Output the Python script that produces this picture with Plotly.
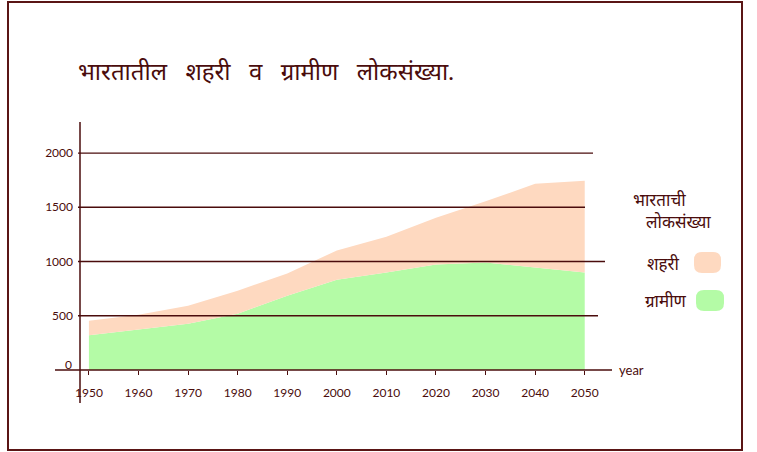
import plotly.graph_objects as go

# India's population (millions): rural bottom layer, urban stacked on top
years = [1950, 1960, 1970, 1980, 1990, 2000, 2010, 2020, 2030, 2040, 2050]
rural = [320, 373, 427, 518, 685, 833, 898, 972, 990, 945, 898]
urban = [135, 136, 166, 213, 204, 269, 330, 432, 565, 771, 847]

y_ticks = [500, 1000, 1500, 2000]
x_tick_labels = [str(y) for y in years]

GAP = "\u00a0\u00a0\u00a0"
title_text = GAP.join(["भारतातील", "शहरी", "व", "ग्रामीण", "लोकसंख्या."])
legend_title = "भारताची<br>\u00a0\u00a0\u00a0लोकसंख्या"
urban_name = "शहरी"
rural_name = "ग्रामीण"
x_label = "year"
origin_label = "0"

INK = "#4a0c0c"
PEACH = "rgb(254,217,192)"
GREEN = "rgb(180,251,166)"
FONT = "Lato, 'Noto Sans', sans-serif"

# plot area in pixels (757 x 452 canvas)
L, R, T, B = 80, 612, 122, 370
W, H = R - L, B - T


def px(x):
    return (x - L) / W


def py(y):
    return (B - y) / H


fig = go.Figure()
fig.add_trace(go.Scatter(
    x=years, y=rural, name=rural_name, stackgroup="pop",
    mode="lines", line=dict(width=0), fillcolor=GREEN, showlegend=False,
))
fig.add_trace(go.Scatter(
    x=years, y=urban, name=urban_name, stackgroup="pop",
    mode="lines", line=dict(width=0), fillcolor=PEACH, showlegend=False,
))

shapes = []
# horizontal guide lines
grid_ends = {500: 598, 1000: 605, 1500: 585, 2000: 593}
for val, end in grid_ends.items():
    shapes.append(dict(type="line", xref="paper", yref="y",
                       x0=px(78), x1=px(end), y0=val, y1=val,
                       line=dict(color=INK, width=1.3), layer="above"))
# axes
shapes.append(dict(type="line", xref="paper", yref="paper",
                   x0=px(80), x1=px(80), y0=1.0, y1=py(403),
                   line=dict(color=INK, width=1.5), layer="above"))
shapes.append(dict(type="line", xref="paper", yref="paper",
                   x0=px(55), x1=px(612), y0=0, y1=0,
                   line=dict(color=INK, width=1.5), layer="above"))
# outer frame
shapes.append(dict(type="rect", xref="paper", yref="paper",
                   x0=px(8), x1=px(742), y0=py(450), y1=py(2),
                   line=dict(color="#5a1515", width=2)))


def rounded(x0, y0, x1, y1, r):
    # rounded rectangle path in paper coordinates from pixel corners
    return (f"M {px(x0 + r)} {py(y0)} L {px(x1 - r)} {py(y0)} "
            f"Q {px(x1)} {py(y0)} {px(x1)} {py(y0 + r)} "
            f"L {px(x1)} {py(y1 - r)} Q {px(x1)} {py(y1)} {px(x1 - r)} {py(y1)} "
            f"L {px(x0 + r)} {py(y1)} Q {px(x0)} {py(y1)} {px(x0)} {py(y1 - r)} "
            f"L {px(x0)} {py(y0 + r)} Q {px(x0)} {py(y0)} {px(x0 + r)} {py(y0)} Z")


shapes.append(dict(type="path", xref="paper", yref="paper",
                   path=rounded(694, 252, 721, 273, 8),
                   fillcolor=PEACH, line=dict(width=0)))
shapes.append(dict(type="path", xref="paper", yref="paper",
                   path=rounded(696, 290, 724, 311, 8),
                   fillcolor=GREEN, line=dict(width=0)))

annotations = [
    dict(text=title_text, xref="paper", yref="paper", x=px(76), y=py(70),
         xanchor="left", yanchor="middle", showarrow=False,
         font=dict(size=24, color=INK, family=FONT)),
    dict(text=legend_title, xref="paper", yref="paper", x=px(631), y=py(210),
         xanchor="left", yanchor="middle", showarrow=False, align="left",
         font=dict(size=17, color=INK, family=FONT)),
    dict(text=urban_name, xref="paper", yref="paper", x=px(682), y=py(263),
         xanchor="right", yanchor="middle", showarrow=False,
         font=dict(size=17, color=INK, family=FONT)),
    dict(text=rural_name, xref="paper", yref="paper", x=px(689), y=py(300),
         xanchor="right", yanchor="middle", showarrow=False,
         font=dict(size=17, color=INK, family=FONT)),
    dict(text=x_label, xref="paper", yref="paper", x=px(617), y=py(370),
         xanchor="left", yanchor="middle", showarrow=False,
         font=dict(size=13, color=INK, family=FONT)),
    dict(text=origin_label, xref="paper", yref="paper", x=px(68), y=py(364),
         xanchor="center", yanchor="middle", showarrow=False,
         font=dict(size=12, color=INK, family=FONT)),
]

fig.update_layout(
    width=757, height=452,
    margin=dict(l=L, r=757 - R, t=T, b=452 - B, pad=0),
    paper_bgcolor="white", plot_bgcolor="white",
    showlegend=False,
    shapes=shapes, annotations=annotations,
    font=dict(family=FONT, color=INK, size=12),
)
fig.update_xaxes(
    range=[1948.2, 2055.5], tickvals=years, ticktext=x_tick_labels,
    showgrid=False, zeroline=False, showline=False,
    ticks="outside", ticklen=4, tickcolor=INK, ticklabelstandoff=8,
    tickfont=dict(size=12, color=INK, family=FONT),
)
fig.update_yaxes(
    range=[0, 2286], tickvals=y_ticks, ticktext=[str(v) for v in y_ticks],
    showgrid=False, zeroline=False, showline=False,
    ticks="", ticklabelstandoff=6,
    tickfont=dict(size=12, color=INK, family=FONT),
)

fig.write_html("out.html")
